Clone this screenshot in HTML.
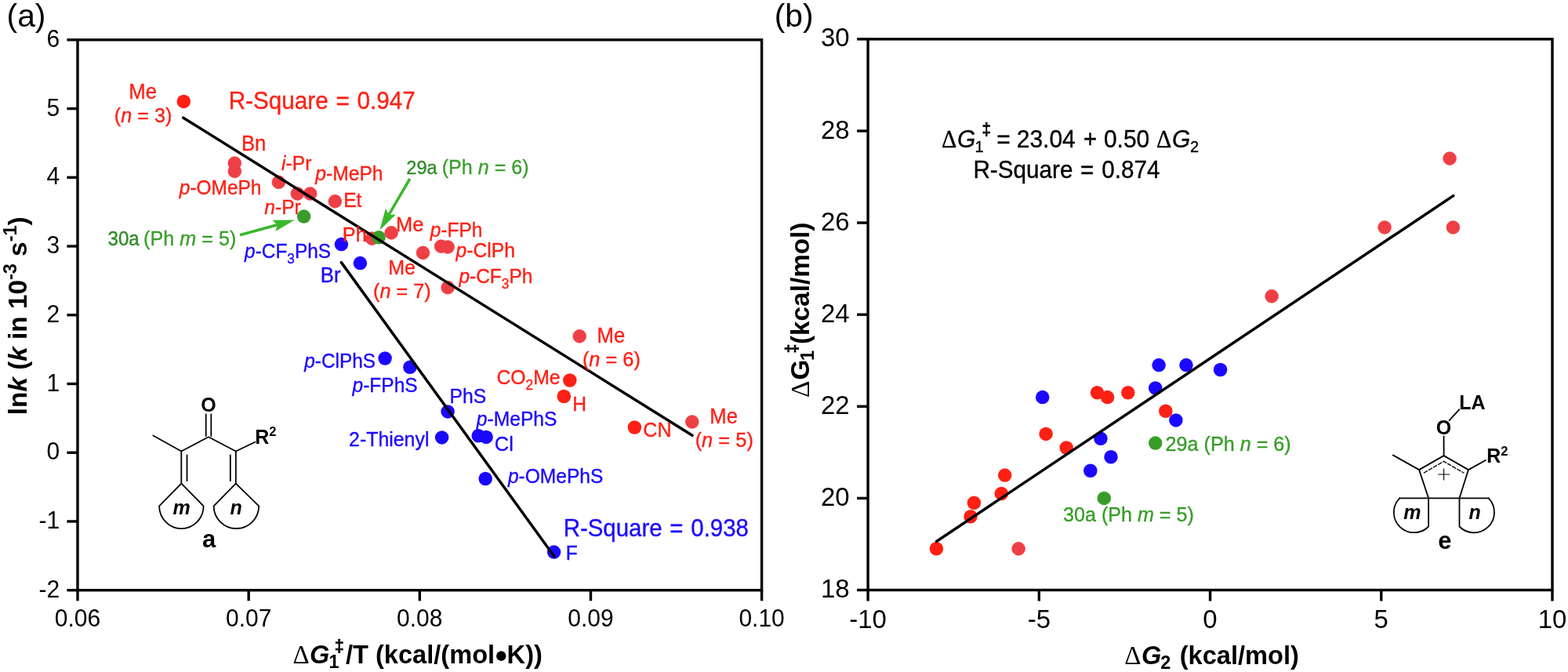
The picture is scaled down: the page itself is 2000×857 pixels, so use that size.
<!DOCTYPE html>
<html lang="en">
<head>
<meta charset="utf-8">
<title>Figure: kinetic and thermodynamic correlations</title>
<style>
html,body{margin:0;padding:0;background:#fff;}
body{width:2000px;height:857px;overflow:hidden;}
svg{display:block;}
text{font-family:"Liberation Sans",sans-serif;}
.lb,.lbb,.rs,.eq{stroke-width:0.35px;}
.dl{font-family:"Liberation Serif","DejaVu Serif",serif;font-weight:normal;font-style:normal;}
.tka{font-size:30px;}
.tkb{font-size:33px;}
.at{font-size:32.6px;font-weight:bold;}
.aty{font-size:33.3px;font-weight:bold;}
.lb{font-size:24.6px;}
.lbs{font-size:24.0px;}
.lbb{font-size:25.2px;}
.rs{font-size:29.6px;word-spacing:1.5px;}
.eq{font-size:30px;}
.eqs{font-size:20px;stroke-width:0.3px;}
.eqd{font-size:20.5px;font-weight:bold;stroke-width:0.5px;}
.ch{font-size:25px;font-weight:bold;}
.chi{font-size:25px;font-weight:bold;font-style:italic;}
.cl{font-size:31px;font-weight:bold;}
</style>
</head>
<body>
<svg width="2000" height="857" viewBox="0 0 2000 857">
<rect id="bg" x="0" y="0" width="2000" height="857" fill="#fff"/>
<rect x="99.0" y="50.8" width="872.60" height="701.90" fill="none" stroke="#000" stroke-width="3.4"/>
<line x1="99.00" y1="752.7" x2="99.00" y2="766.3000000000001" stroke="#000" stroke-width="3.4"/>
<text class="tka" transform="translate(99.00 799.2) scale(1 1.035)" text-anchor="middle">0.06</text>
<line x1="317.15" y1="752.7" x2="317.15" y2="766.3000000000001" stroke="#000" stroke-width="3.4"/>
<text class="tka" transform="translate(317.15 799.2) scale(1 1.035)" text-anchor="middle">0.07</text>
<line x1="535.30" y1="752.7" x2="535.30" y2="766.3000000000001" stroke="#000" stroke-width="3.4"/>
<text class="tka" transform="translate(535.30 799.2) scale(1 1.035)" text-anchor="middle">0.08</text>
<line x1="753.45" y1="752.7" x2="753.45" y2="766.3000000000001" stroke="#000" stroke-width="3.4"/>
<text class="tka" transform="translate(753.45 799.2) scale(1 1.035)" text-anchor="middle">0.09</text>
<line x1="971.60" y1="752.7" x2="971.60" y2="766.3000000000001" stroke="#000" stroke-width="3.4"/>
<text class="tka" transform="translate(971.60 799.2) scale(1 1.035)" text-anchor="middle">0.10</text>
<line x1="85.4" y1="50.80" x2="99.0" y2="50.80" stroke="#000" stroke-width="3.4"/>
<text class="tka" transform="translate(76.2 59.90) scale(1 1.035)" text-anchor="end">6</text>
<line x1="85.4" y1="138.54" x2="99.0" y2="138.54" stroke="#000" stroke-width="3.4"/>
<text class="tka" transform="translate(76.2 147.64) scale(1 1.035)" text-anchor="end">5</text>
<line x1="85.4" y1="226.28" x2="99.0" y2="226.28" stroke="#000" stroke-width="3.4"/>
<text class="tka" transform="translate(76.2 235.38) scale(1 1.035)" text-anchor="end">4</text>
<line x1="85.4" y1="314.01" x2="99.0" y2="314.01" stroke="#000" stroke-width="3.4"/>
<text class="tka" transform="translate(76.2 323.11) scale(1 1.035)" text-anchor="end">3</text>
<line x1="85.4" y1="401.75" x2="99.0" y2="401.75" stroke="#000" stroke-width="3.4"/>
<text class="tka" transform="translate(76.2 410.85) scale(1 1.035)" text-anchor="end">2</text>
<line x1="85.4" y1="489.49" x2="99.0" y2="489.49" stroke="#000" stroke-width="3.4"/>
<text class="tka" transform="translate(76.2 498.59) scale(1 1.035)" text-anchor="end">1</text>
<line x1="85.4" y1="577.23" x2="99.0" y2="577.23" stroke="#000" stroke-width="3.4"/>
<text class="tka" transform="translate(76.2 586.33) scale(1 1.035)" text-anchor="end">0</text>
<line x1="85.4" y1="664.96" x2="99.0" y2="664.96" stroke="#000" stroke-width="3.4"/>
<text class="tka" transform="translate(76.2 674.06) scale(1 1.035)" text-anchor="end">-1</text>
<line x1="85.4" y1="752.70" x2="99.0" y2="752.70" stroke="#000" stroke-width="3.4"/>
<text class="tka" transform="translate(76.2 761.80) scale(1 1.035)" text-anchor="end">-2</text>
<rect x="1107.1" y="49.9" width="872.90" height="702.60" fill="none" stroke="#000" stroke-width="3.4"/>
<line x1="1107.10" y1="752.5" x2="1107.10" y2="766.5" stroke="#000" stroke-width="3.4"/>
<text class="tkb" transform="translate(1107.10 800.8) scale(1 1.035)" text-anchor="middle">-10</text>
<line x1="1325.32" y1="752.5" x2="1325.32" y2="766.5" stroke="#000" stroke-width="3.4"/>
<text class="tkb" transform="translate(1325.32 800.8) scale(1 1.035)" text-anchor="middle">-5</text>
<line x1="1543.55" y1="752.5" x2="1543.55" y2="766.5" stroke="#000" stroke-width="3.4"/>
<text class="tkb" transform="translate(1543.55 800.8) scale(1 1.035)" text-anchor="middle">0</text>
<line x1="1761.78" y1="752.5" x2="1761.78" y2="766.5" stroke="#000" stroke-width="3.4"/>
<text class="tkb" transform="translate(1761.78 800.8) scale(1 1.035)" text-anchor="middle">5</text>
<line x1="1980.00" y1="752.5" x2="1980.00" y2="766.5" stroke="#000" stroke-width="3.4"/>
<text class="tkb" transform="translate(1980.00 800.8) scale(1 1.035)" text-anchor="middle">10</text>
<line x1="1093.1" y1="49.90" x2="1107.1" y2="49.90" stroke="#000" stroke-width="3.4"/>
<text class="tkb" transform="translate(1083.7 59.40) scale(1 1.035)" text-anchor="end">30</text>
<line x1="1093.1" y1="167.00" x2="1107.1" y2="167.00" stroke="#000" stroke-width="3.4"/>
<text class="tkb" transform="translate(1083.7 176.50) scale(1 1.035)" text-anchor="end">28</text>
<line x1="1093.1" y1="284.10" x2="1107.1" y2="284.10" stroke="#000" stroke-width="3.4"/>
<text class="tkb" transform="translate(1083.7 293.60) scale(1 1.035)" text-anchor="end">26</text>
<line x1="1093.1" y1="401.20" x2="1107.1" y2="401.20" stroke="#000" stroke-width="3.4"/>
<text class="tkb" transform="translate(1083.7 410.70) scale(1 1.035)" text-anchor="end">24</text>
<line x1="1093.1" y1="518.30" x2="1107.1" y2="518.30" stroke="#000" stroke-width="3.4"/>
<text class="tkb" transform="translate(1083.7 527.80) scale(1 1.035)" text-anchor="end">22</text>
<line x1="1093.1" y1="635.40" x2="1107.1" y2="635.40" stroke="#000" stroke-width="3.4"/>
<text class="tkb" transform="translate(1083.7 644.90) scale(1 1.035)" text-anchor="end">20</text>
<line x1="1093.1" y1="752.50" x2="1107.1" y2="752.50" stroke="#000" stroke-width="3.4"/>
<text class="tkb" transform="translate(1083.7 762.00) scale(1 1.035)" text-anchor="end">18</text>
<text id="pa" transform="translate(8.6 34.3) scale(1 0.99)" font-size="40.8">(a)</text>
<text id="pb" transform="translate(987.7 34.3) scale(1 0.99)" font-size="40.8">(b)</text>
<text id="xta" class="at" transform="translate(373.4 846.0) scale(1 1.03)"><tspan x="0" y="0" class="dl" font-size="33">Δ</tspan><tspan x="21.60" y="0" font-style="italic">G</tspan><tspan x="46.00" y="5.80" font-size="23.5">1</tspan><tspan x="53.30" y="-14.80" font-size="21.5" stroke="#000" stroke-width="0.6">‡</tspan><tspan x="67.60" y="0">/T (kcal/(mol</tspan><tspan x="260.2" y="0">•</tspan><tspan x="273.2" y="0">K))</tspan></text>
<circle cx="639.3" cy="836.7" r="6.2" fill="#000"/>
<text id="xtb" class="at" transform="translate(1434.3 846.6) scale(1 1.03)"><tspan x="0" y="0" class="dl" font-size="33">Δ</tspan><tspan x="21.60" y="0" font-style="italic">G</tspan><tspan x="46.00" y="5.80" font-size="23.5">2</tspan><tspan x="70.40" y="0">(kcal/mol)</tspan></text>
<text id="yta" class="aty" transform="translate(33.6,529.2) rotate(-90)">ln<tspan font-style="italic">k</tspan> (<tspan font-style="italic">k</tspan> in 10<tspan font-size="23.5" dy="-12.3">-3</tspan><tspan dy="12.3"> s</tspan><tspan font-size="23.5" dy="-12.3">-1</tspan><tspan dy="12.3">)</tspan></text>
<text id="ytb" class="aty" transform="translate(1032.1,506.9) rotate(-90)"><tspan x="0" y="0" class="dl" font-size="33.3">Δ</tspan><tspan x="22.40" y="0" font-style="normal">G</tspan><tspan x="47.00" y="5.80" font-size="23.5">1</tspan><tspan x="56.30" y="-14.80" font-size="21.5" stroke="#000" stroke-width="0.6">‡</tspan><tspan x="67.90" y="0">(kcal/mol)</tspan></text>
<circle cx="234.3" cy="129.4" r="8.75" fill="#ff2015"/>
<circle cx="299.3" cy="208.1" r="8.35" fill="#ed4046" stroke="#f7383c" stroke-width="0.8"/>
<circle cx="299.3" cy="218.4" r="8.35" fill="#ed4046" stroke="#f7383c" stroke-width="0.8"/>
<circle cx="355.4" cy="232.4" r="8.35" fill="#ed4046" stroke="#f7383c" stroke-width="0.8"/>
<circle cx="379.3" cy="247.0" r="8.35" fill="#ed4046" stroke="#f7383c" stroke-width="0.8"/>
<circle cx="395.6" cy="247.0" r="8.35" fill="#ed4046" stroke="#f7383c" stroke-width="0.8"/>
<circle cx="427.3" cy="256.8" r="8.35" fill="#ed4046" stroke="#f7383c" stroke-width="0.8"/>
<circle cx="474.4" cy="304.2" r="8.35" fill="#ed4046" stroke="#f7383c" stroke-width="0.8"/>
<circle cx="499.1" cy="296.9" r="8.35" fill="#ed4046" stroke="#f7383c" stroke-width="0.8"/>
<circle cx="483.1" cy="302.8" r="8.75" fill="#389d28"/>
<circle cx="387.6" cy="276.1" r="8.75" fill="#389d28"/>
<circle cx="435.4" cy="311.6" r="8.75" fill="#1b08ff"/>
<circle cx="459.4" cy="335.6" r="8.75" fill="#1b08ff"/>
<circle cx="539.5" cy="322.4" r="8.35" fill="#ed4046" stroke="#f7383c" stroke-width="0.8"/>
<circle cx="562.6" cy="314.2" r="8.35" fill="#ed4046" stroke="#f7383c" stroke-width="0.8"/>
<circle cx="571.1" cy="315" r="8.35" fill="#ed4046" stroke="#f7383c" stroke-width="0.8"/>
<circle cx="571.1" cy="366.7" r="8.35" fill="#ed4046" stroke="#f7383c" stroke-width="0.8"/>
<circle cx="739.2" cy="428.8" r="8.35" fill="#ed4046" stroke="#f7383c" stroke-width="0.8"/>
<circle cx="726.8" cy="485" r="8.75" fill="#ff2015"/>
<circle cx="719.3" cy="505.5" r="8.75" fill="#ff2015"/>
<circle cx="809.4" cy="545" r="8.75" fill="#ff2015"/>
<circle cx="882.8" cy="538" r="8.35" fill="#ed4046" stroke="#f7383c" stroke-width="0.8"/>
<circle cx="491.1" cy="457" r="8.75" fill="#1b08ff"/>
<circle cx="522.9" cy="468.2" r="8.75" fill="#1b08ff"/>
<circle cx="571.1" cy="524.9" r="8.75" fill="#1b08ff"/>
<circle cx="563.6" cy="557.9" r="8.75" fill="#1b08ff"/>
<circle cx="610.2" cy="555.7" r="8.75" fill="#1b08ff"/>
<circle cx="620.1" cy="557.4" r="8.75" fill="#1b08ff"/>
<circle cx="619.2" cy="610.5" r="8.75" fill="#1b08ff"/>
<circle cx="706.6" cy="704.1" r="8.75" fill="#1b08ff"/>
<circle cx="1329.7" cy="506.6" r="8.75" fill="#1b08ff"/>
<circle cx="1399.5" cy="500.7" r="8.75" fill="#ff2015"/>
<circle cx="1412.6" cy="506.6" r="8.75" fill="#ff2015"/>
<circle cx="1438.8" cy="500.7" r="8.75" fill="#ff2015"/>
<circle cx="1478.1" cy="465.6" r="8.75" fill="#1b08ff"/>
<circle cx="1473.7" cy="494.9" r="8.75" fill="#1b08ff"/>
<circle cx="1486.8" cy="524.2" r="8.75" fill="#ff2015"/>
<circle cx="1499.9" cy="535.9" r="8.75" fill="#1b08ff"/>
<circle cx="1473.7" cy="565.1" r="8.75" fill="#389d28"/>
<circle cx="1334.1" cy="553.4" r="8.75" fill="#ff2015"/>
<circle cx="1360.2" cy="571.0" r="8.75" fill="#ff2015"/>
<circle cx="1403.9" cy="559.3" r="8.75" fill="#1b08ff"/>
<circle cx="1417.0" cy="582.7" r="8.75" fill="#1b08ff"/>
<circle cx="1390.8" cy="600.3" r="8.75" fill="#1b08ff"/>
<circle cx="1408.3" cy="635.4" r="8.75" fill="#389d28"/>
<circle cx="1281.7" cy="606.1" r="8.75" fill="#ff2015"/>
<circle cx="1277.3" cy="629.5" r="8.75" fill="#ff2015"/>
<circle cx="1242.4" cy="641.3" r="8.75" fill="#ff2015"/>
<circle cx="1238.0" cy="658.8" r="8.75" fill="#ff2015"/>
<circle cx="1194.4" cy="699.8" r="8.75" fill="#ff2015"/>
<circle cx="1299.1" cy="699.8" r="8.35" fill="#ed4046" stroke="#f7383c" stroke-width="0.8"/>
<circle cx="1513.0" cy="465.6" r="8.75" fill="#1b08ff"/>
<circle cx="1556.6" cy="471.5" r="8.75" fill="#1b08ff"/>
<circle cx="1622.1" cy="377.8" r="8.35" fill="#ed4046" stroke="#f7383c" stroke-width="0.8"/>
<circle cx="1766.1" cy="290.0" r="8.35" fill="#ed4046" stroke="#f7383c" stroke-width="0.8"/>
<circle cx="1849.1" cy="202.1" r="8.35" fill="#ed4046" stroke="#f7383c" stroke-width="0.8"/>
<circle cx="1853.4" cy="290.0" r="8.35" fill="#ed4046" stroke="#f7383c" stroke-width="0.8"/>
<line x1="233.8" y1="150.2" x2="883.0" y2="555.3" stroke="#000" stroke-width="3.5" stroke-linecap="round"/>
<line x1="435.3" y1="334.6" x2="707.2" y2="710.0" stroke="#000" stroke-width="3.5" stroke-linecap="round"/>
<line x1="1194.5" y1="690.5" x2="1853.8" y2="249.6" stroke="#000" stroke-width="3.5" stroke-linecap="round"/>
<text id="l1" class="lb" style="font-size:25.71px" transform="translate(164.35 125.8) scale(1 1.045)" fill="#ff2015" stroke="#ff2015">Me</text>
<text id="l2" class="lb" style="font-size:25.22px" transform="translate(145.84 156.1) scale(1 1.045)" fill="#ff2015" stroke="#ff2015">(<tspan font-style="italic">n</tspan> = 3)</text>
<text id="l3" class="rs" style="font-size:29.69px" transform="translate(291.64 138.9) scale(1 1.045)" fill="#ff2015" stroke="#ff2015">R-Square = 0.947</text>
<text id="l4" class="lb" style="font-size:25.67px" transform="translate(308.00 192.4) scale(1 1.045)" fill="#ff2015" stroke="#ff2015">Bn</text>
<text id="l5" class="lb" style="font-size:24.60px" transform="translate(359.08 217.0) scale(1 1.045)" fill="#ff2015" stroke="#ff2015"><tspan font-style="italic">i</tspan>-Pr</text>
<text id="l6" class="lb" style="font-size:24.67px" transform="translate(402.21 230.1) scale(1 1.045)" fill="#ff2015" stroke="#ff2015"><tspan font-style="italic">p</tspan>-MePh</text>
<text id="l7" class="lb" style="font-size:24.46px" transform="translate(228.86 247.5) scale(1 1.045)" fill="#ff2015" stroke="#ff2015"><tspan font-style="italic">p</tspan>-OMePh</text>
<text id="l8" class="lb" style="font-size:24.48px" transform="translate(438.15 264.0) scale(1 1.045)" fill="#ff2015" stroke="#ff2015">Et</text>
<text id="l9" class="lb" style="font-size:24.63px" transform="translate(337.28 273.2) scale(1 1.045)" fill="#ff2015" stroke="#ff2015"><tspan font-style="italic">n</tspan>-Pr</text>
<text id="l10a" class="lb lbs" style="font-size:24.09px" transform="translate(137.49 313.4) scale(1 1.045)" fill="#2e8b25" stroke="#2e8b25">30a</text>
<text id="l10b" class="lb" style="font-size:25.18px" transform="translate(183.12 313.4) scale(1 1.045)" fill="#3a9f2c" stroke="#3a9f2c">(Ph <tspan font-style="italic">m</tspan> = 5)</text>
<text id="l11" class="lb" style="font-size:25.20px" transform="translate(436.85 307.8) scale(1 1.045)" fill="#ff2015" stroke="#ff2015">Ph</text>
<text id="l12" class="lb" style="font-size:24.41px" transform="translate(312.10 328.9) scale(1 1.045)" fill="#1b08ff" stroke="#1b08ff"><tspan font-style="italic">p</tspan>-CF<tspan font-size="17.2" dy="6.5">3</tspan><tspan dy="-6.5">PhS</tspan></text>
<text id="l13" class="lb" style="font-size:25.71px" transform="translate(408.78 359.7) scale(1 1.045)" fill="#1b08ff" stroke="#1b08ff">Br</text>
<text id="l14" class="lb" style="font-size:25.46px" transform="translate(505.05 295.4) scale(1 1.045)" fill="#ff2015" stroke="#ff2015">Me</text>
<text id="l15" class="lb" style="font-size:24.47px" transform="translate(548.73 302.1) scale(1 1.045)" fill="#ff2015" stroke="#ff2015"><tspan font-style="italic">p</tspan>-FPh</text>
<text id="l16" class="lb" style="font-size:24.65px" transform="translate(581.51 327.9) scale(1 1.045)" fill="#ff2015" stroke="#ff2015"><tspan font-style="italic">p</tspan>-ClPh</text>
<text id="l17" class="lb" style="font-size:25.03px" transform="translate(495.15 349.7) scale(1 1.045)" fill="#ff2015" stroke="#ff2015">Me</text>
<text id="l18" class="lb" style="font-size:25.21px" transform="translate(476.03 380.4) scale(1 1.045)" fill="#ff2015" stroke="#ff2015">(<tspan font-style="italic">n</tspan> = 7)</text>
<text id="l19" class="lb" style="font-size:24.51px" transform="translate(585.39 360.7) scale(1 1.045)" fill="#ff2015" stroke="#ff2015"><tspan font-style="italic">p</tspan>-CF<tspan font-size="17.2" dy="6.5">3</tspan><tspan dy="-6.5">Ph</tspan></text>
<text id="l20a" class="lb lbs" style="font-size:23.54px" transform="translate(518.34 221.65) scale(1 1.045)" fill="#2e8b25" stroke="#2e8b25">29a</text>
<text id="l20b" class="lb" style="font-size:25.10px" transform="translate(563.75 221.65) scale(1 1.045)" fill="#3a9f2c" stroke="#3a9f2c">(Ph <tspan font-style="italic">n</tspan> = 6)</text>
<text id="l21" class="lb" style="font-size:25.70px" transform="translate(761.50 437.25) scale(1 1.045)" fill="#ff2015" stroke="#ff2015">Me</text>
<text id="l22" class="lb" style="font-size:25.37px" transform="translate(742.90 467.15) scale(1 1.045)" fill="#ff2015" stroke="#ff2015">(<tspan font-style="italic">n</tspan> = 6)</text>
<text id="l23" class="lb" style="font-size:24.80px" transform="translate(633.39 490.4) scale(1 1.045)" fill="#ff2015" stroke="#ff2015">CO<tspan font-size="17.2" dy="6.5">2</tspan><tspan dy="-6.5">Me</tspan></text>
<text id="l24" class="lb" transform="translate(730.37 523.95) scale(1 1.045)" fill="#ff2015" stroke="#ff2015">H</text>
<text id="l25" class="lb" style="font-size:25.09px" transform="translate(820.26 557.4) scale(1 1.045)" fill="#ff2015" stroke="#ff2015">CN</text>
<text id="l26" class="lb" style="font-size:25.70px" transform="translate(905.25 539.65) scale(1 1.045)" fill="#ff2015" stroke="#ff2015">Me</text>
<text id="l27" class="lb" style="font-size:25.46px" transform="translate(886.64 569.65) scale(1 1.045)" fill="#ff2015" stroke="#ff2015">(<tspan font-style="italic">n</tspan> = 5)</text>
<text id="l28" class="lb" style="font-size:24.68px" transform="translate(573.61 514.1) scale(1 1.045)" fill="#1b08ff" stroke="#1b08ff">PhS</text>
<text id="l29" class="lb" style="font-size:24.62px" transform="translate(607.84 542.7) scale(1 1.045)" fill="#1b08ff" stroke="#1b08ff"><tspan font-style="italic">p</tspan>-MePhS</text>
<text id="l30" class="lb" style="font-size:25.44px" transform="translate(630.78 574.7) scale(1 1.045)" fill="#1b08ff" stroke="#1b08ff">Cl</text>
<text id="l31" class="lb" style="font-size:24.58px" transform="translate(647.88 615.5) scale(1 1.045)" fill="#1b08ff" stroke="#1b08ff"><tspan font-style="italic">p</tspan>-OMePhS</text>
<text id="l32" class="rs" style="font-size:29.47px" transform="translate(718.63 684.1) scale(1 1.045)" fill="#1b08ff" stroke="#1b08ff">R-Square = 0.938</text>
<text id="l33" class="lb" transform="translate(721.72 714.0) scale(1 1.045)" fill="#1b08ff" stroke="#1b08ff">F</text>
<text id="l34" class="lb" style="font-size:24.41px" transform="translate(388.25 469.1) scale(1 1.045)" fill="#1b08ff" stroke="#1b08ff"><tspan font-style="italic">p</tspan>-ClPhS</text>
<text id="l35" class="lb" style="font-size:24.51px" transform="translate(449.56 499.6) scale(1 1.045)" fill="#1b08ff" stroke="#1b08ff"><tspan font-style="italic">p</tspan>-FPhS</text>
<text id="l36" class="lb" style="font-size:24.90px" transform="translate(445.07 569.0) scale(1 1.045)" fill="#1b08ff" stroke="#1b08ff">2-Thienyl</text>
<text id="e1a" class="eq dl" transform="translate(1201.10 188) scale(1 1.045)" fill="#000" stroke="#000">Δ</text>
<text id="e1b" class="eq" transform="translate(1221.12 188) scale(1 1.045)" fill="#000" stroke="#000"><tspan font-style="italic">G</tspan></text>
<text id="e1c" class="eqs" transform="translate(1243.50 193.7) scale(1 1.045)" fill="#000" stroke="#000">1</text>
<text id="e1d" class="eqd" transform="translate(1252.40 172.2) scale(1 1.045)" fill="#000" stroke="#000">‡</text>
<text id="e1e" class="eq" transform="translate(1271.19 188) scale(1 1.045)" fill="#000" stroke="#000">=</text>
<text id="e1f" class="eq" transform="translate(1296.75 188) scale(1 1.045)" fill="#000" stroke="#000">23.04</text>
<text id="e1g" class="eq" transform="translate(1381.69 188) scale(1 1.045)" fill="#000" stroke="#000">+</text>
<text id="e1h" class="eq" transform="translate(1407.90 188) scale(1 1.045)" fill="#000" stroke="#000">0.50</text>
<text id="e1i" class="eq dl" transform="translate(1475.01 188) scale(1 1.045)" fill="#000" stroke="#000">Δ</text>
<text id="e1j" class="eq" transform="translate(1495.12 188) scale(1 1.045)" fill="#000" stroke="#000"><tspan font-style="italic">G</tspan></text>
<text id="e1k" class="eqs" transform="translate(1518.07 194.0) scale(1 1.045)" fill="#000" stroke="#000">2</text>
<text id="e2" class="rs" style="font-size:29.66px" transform="translate(1241.46 227.1) scale(1 1.045)" fill="#000" stroke="#000">R-Square = 0.874</text>
<text id="b1" class="lbb" style="font-size:25.16px" transform="translate(1486.58 575.4) scale(1 1.045)" fill="#389d28" stroke="#389d28">29a (Ph <tspan font-style="italic">n</tspan> = 6)</text>
<text id="b2" class="lbb" style="font-size:25.13px" transform="translate(1356.01 665.4) scale(1 1.045)" fill="#389d28" stroke="#389d28">30a (Ph <tspan font-style="italic">m</tspan> = 5)</text>
<line x1="306.0" y1="299.8" x2="353.7" y2="286.7" stroke="#3ab82c" stroke-width="3.5"/>
<polygon points="375.9,280.6 351.4,295.1 353.7,286.7 347.4,280.7" fill="#3ab82c"/>
<line x1="522.8" y1="228" x2="496.0" y2="273.8" stroke="#3ab82c" stroke-width="3.5"/>
<polygon points="484.4,293.6 491.8,266.1 496.0,273.8 504.8,273.7" fill="#3ab82c"/>
<path d="M195.4 555.5 L231.3 575.5 L266 557.3 L300.8 575.5 L325.4 563.7" fill="none" stroke="#000" stroke-width="1.8" stroke-linejoin="round" stroke-linecap="round" />
<path d="M262.7 528.5 V556 M269.3 528.5 V556" fill="none" stroke="#000" stroke-width="1.8" stroke-linejoin="round" stroke-linecap="round" />
<path d="M231.3 575.5 V616.6 M238.5 580.4 V613.2" fill="none" stroke="#000" stroke-width="1.8" stroke-linejoin="round" stroke-linecap="round" />
<path d="M300.8 575.5 V616.6 M293.8 580.4 V613.2" fill="none" stroke="#000" stroke-width="1.8" stroke-linejoin="round" stroke-linecap="round" />
<path d="M231.3 616.6 L203.1 645.3 A28.2 28.7 0 0 0 259.6 645.3 Z" fill="none" stroke="#000" stroke-width="1.8" stroke-linejoin="round" stroke-linecap="round" />
<path d="M300.8 616.6 L272.6 645.3 A28.8 28.7 0 0 0 330.2 645.3 Z" fill="none" stroke="#000" stroke-width="1.8" stroke-linejoin="round" stroke-linecap="round" />
<text class="ch" x="266" y="524.6" text-anchor="middle">O</text>
<text class="ch" x="325.2" y="565.8">R<tspan font-size="16.5" dy="-9.6">2</tspan></text>
<text class="chi" x="231.7" y="656.3" text-anchor="middle">m</text>
<text class="chi" x="301.2" y="656.3" text-anchor="middle">n</text>
<text class="cl" x="266.7" y="698.2" text-anchor="middle">a</text>
<path d="M1776.7 580.4 L1810.1 599.1 L1841.6 581.1 L1873 599.1 L1894.8 587" fill="none" stroke="#000" stroke-width="1.8" stroke-linejoin="round" stroke-linecap="round" />
<path d="M1810.1 599.1 L1822.1 635.3 M1873 599.1 L1861.5 635.3" fill="none" stroke="#000" stroke-width="1.8" stroke-linejoin="round" stroke-linecap="round" />
<path d="M1841.6 581.1 V556.5 M1848.6 536.2 L1861.4 522.1" fill="none" stroke="#000" stroke-width="1.8" stroke-linejoin="round" stroke-linecap="round" />
<path d="M1816.3 603.0 L1841.6 588.4 L1867.0 603.0" fill="none" stroke="#000" stroke-width="1.4" stroke-linejoin="round" stroke-linecap="round" stroke-dasharray="4.6 2.4"/>
<path d="M1834.6 605 H1848.6 M1841.6 598 V612" fill="none" stroke="#000" stroke-width="1.1" stroke-linejoin="round" stroke-linecap="round" />
<path d="M1785.2 635.3 H1898.7" fill="none" stroke="#000" stroke-width="1.8" stroke-linejoin="round" stroke-linecap="round" />
<path d="M1822.1 635.3 V671.5 A25.8 25.8 0 0 1 1785.2 635.3" fill="none" stroke="#000" stroke-width="1.8" stroke-linejoin="round" stroke-linecap="round" />
<path d="M1861.5 635.3 V671.5 A25.8 25.8 0 0 0 1898.7 635.3" fill="none" stroke="#000" stroke-width="1.8" stroke-linejoin="round" stroke-linecap="round" />
<text class="ch" x="1841.6" y="554" text-anchor="middle">O</text>
<text class="ch" x="1861.2" y="521.6">LA</text>
<text class="ch" x="1896.2" y="590.2">R<tspan font-size="16.5" dy="-9.6">2</tspan></text>
<text class="chi" x="1801.3" y="662.4" text-anchor="middle">m</text>
<text class="chi" x="1881.2" y="662.4" text-anchor="middle">n</text>
<text class="cl" x="1842.9" y="699.8" text-anchor="middle">e</text>
</svg>
</body>
</html>
